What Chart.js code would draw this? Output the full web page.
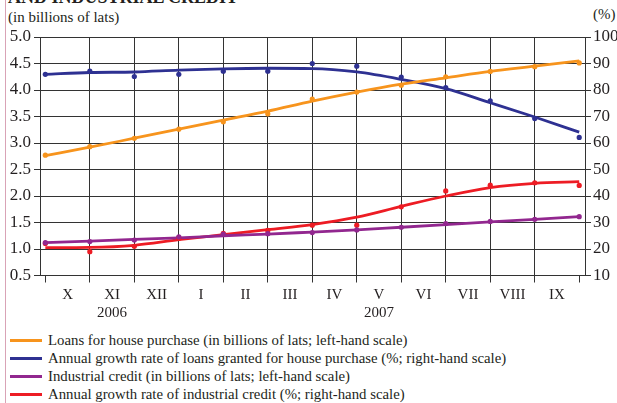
<!DOCTYPE html>
<html>
<head>
<meta charset="utf-8">
<script src="https://cdn.jsdelivr.net/npm/chart.js@4.4.0/dist/chart.umd.min.js"></script>
<style>
  html, body { margin: 0; padding: 0; background: #fff; width: 617px; height: 403px; overflow: hidden; }
  body { position: relative; font-family: "Liberation Serif", "DejaVu Serif", serif; color: #231f20; }
  #chart { position: absolute; left: 0; top: 0; }
  .txt { position: absolute; white-space: nowrap; line-height: 15px; font-size: 15px; }
  #title { position: absolute; left: 8px; top: -12px; font-size: 18px; line-height: 18px; font-weight: bold; white-space: nowrap; }
  #edge { position: absolute; left: 5px; top: 0; width: 1px; height: 403px; background: #d9a3b6; }
  #legend { position: absolute; left: 10px; top: 331px; font-size: 14.8px; line-height: 18px; }
  .row { display: flex; align-items: center; height: 18px; white-space: nowrap; }
  .sw { width: 32px; height: 3px; margin-right: 6px; }
</style>
</head>
<body>
<div id="edge"></div>
<div id="title">AND INDUSTRIAL CREDIT</div>
<div class="txt" style="left:8px; top:10px;">(in billions of lats)</div>
<div class="txt" style="left:593px; top:7px;">(%)</div>
<canvas id="chart" width="617" height="330"></canvas>
<div id="legend"></div>
<script>
// Month labels (placed between the month-end data points) and year labels
const months = ['X', 'XI', 'XII', 'I', 'II', 'III', 'IV', 'V', 'VI', 'VII', 'VIII', 'IX'];
const years  = ['', '2006', '', '', '', '', '', '2007', '', '', '', ''];

// Observed values (dots), 13 month-end points
const loansHouse      = [2.77, 2.93, 3.09, 3.26, 3.40, 3.55, 3.83, 3.96, 4.09, 4.25, 4.35, 4.44, 4.51];
const loansHouseGrowth= [85.9, 87.1, 85.1, 85.9, 87.1, 87.1, 90.0, 89.0, 84.9, 80.9, 75.9, 69.2, 62.1];
const industrial      = [1.12, 1.14, 1.17, 1.23, 1.28, 1.29, 1.31, 1.36, 1.41, 1.48, 1.52, 1.56, 1.61];
const industrialGrowth= [22.1, 19.0, 21.0, 24.1, 25.9, 27.0, 29.0, 29.0, 35.9, 41.9, 44.1, 45.0, 44.0];

// Smoothed trend lines
const loansHouseTrend      = [2.76, 2.92, 3.09, 3.26, 3.43, 3.60, 3.79, 3.96, 4.11, 4.23, 4.35, 4.45, 4.55];
const loansHouseGrowthTrend= [85.9, 86.6, 86.8, 87.5, 88.0, 88.2, 88.1, 86.8, 84.0, 80.5, 75.2, 69.8, 64.1];
const industrialTrend      = [1.12, 1.15, 1.18, 1.21, 1.25, 1.28, 1.32, 1.36, 1.41, 1.46, 1.51, 1.56, 1.61];
const industrialGrowthTrend= [20.5, 20.6, 21.4, 23.5, 25.4, 27.3, 29.2, 32.0, 36.1, 40.0, 43.2, 44.8, 45.4];

const legendLabels = [
  'Loans for house purchase (in billions of lats; left-hand scale)',
  'Annual growth rate of loans granted for house purchase (%; right-hand scale)',
  'Industrial credit (in billions of lats; left-hand scale)',
  'Annual growth rate of industrial credit (%; right-hand scale)'
];
const colors = ['#F7941D', '#2E3192', '#92278F', '#ED1C24'];

const pts = arr => arr.map((v, i) => ({ x: i, y: v }));
const GRID = '#333333';
const FONT = '"Liberation Serif", "DejaVu Serif", serif';

function lineDs(label, data, color, axis) {
  return { label, data: pts(data), yAxisID: axis, borderColor: color, backgroundColor: color,
    borderWidth: 2.8, pointRadius: 0, cubicInterpolationMode: 'monotone', fill: false, order: 2 };
}
function dotDs(label, data, color, axis) {
  return { label, data: pts(data), yAxisID: axis, borderColor: color, backgroundColor: color,
    showLine: false, pointRadius: 2.6, pointBorderWidth: 0, pointHoverRadius: 2.6, order: 1 };
}

new Chart(document.getElementById('chart'), {
  type: 'line',
  data: {
    datasets: [
      lineDs(legendLabels[0], loansHouseTrend, colors[0], 'y'),
      lineDs(legendLabels[1], loansHouseGrowthTrend, colors[1], 'y1'),
      lineDs(legendLabels[2], industrialTrend, colors[2], 'y'),
      lineDs(legendLabels[3], industrialGrowthTrend, colors[3], 'y1'),
      dotDs('loans dots', loansHouse, colors[0], 'y'),
      dotDs('loans growth dots', loansHouseGrowth, colors[1], 'y1'),
      dotDs('industrial dots', industrial, colors[2], 'y'),
      dotDs('industrial growth dots', industrialGrowth, colors[3], 'y1')
    ]
  },
  options: {
    responsive: false,
    animation: false,
    events: [],
    layout: { padding: { top: 37, left: 0, right: 0, bottom: 0 } },
    plugins: { legend: { display: false }, tooltip: { enabled: false } },
    scales: {
      x: {
        type: 'linear',
        position: 'bottom',
        min: -0.12,
        max: 12.13,
        afterBuildTicks: axis => {
          const t = [];
          for (let k = 0; k <= 24; k++) t.push({ value: k / 2 });
          axis.ticks = t;
        },
        afterFit: s => { s.height = 54.5; },
        grid: {
          color: ctx => {
            const v = ctx.tick ? ctx.tick.value : -1;
            return (Number.isInteger(v) && v > 0 && v < 12) ? GRID : 'rgba(0,0,0,0)';
          },
          tickColor: ctx => {
            const v = ctx.tick ? ctx.tick.value : -1;
            return Number.isInteger(v) ? GRID : 'rgba(0,0,0,0)';
          },
          lineWidth: 1,
          tickLength: 7,
          drawTicks: true
        },
        border: { display: true, color: GRID, width: 1 },
        ticks: {
          autoSkip: false, maxRotation: 0, minRotation: 0, padding: 4,
          color: '#231f20',
          font: { family: FONT, size: 15, lineHeight: 1.2 },
          callback: v => {
            if (Number.isInteger(v)) return '';
            const i = Math.floor(v);
            return years[i] ? [months[i], years[i]] : months[i];
          }
        }
      },
      y: {
        type: 'linear',
        position: 'left',
        min: 0.5, max: 5.0,
        afterFit: s => { s.width = 40; },
        grid: { color: GRID, lineWidth: 1, tickLength: 6, drawTicks: true },
        border: { display: true, color: GRID, width: 1 },
        ticks: {
          stepSize: 0.5, padding: 3, color: '#231f20',
          font: { family: FONT, size: 17 },
          callback: v => v.toFixed(1)
        }
      },
      y1: {
        type: 'linear',
        position: 'right',
        min: 10, max: 100,
        afterFit: s => { s.width = 32; },
        grid: { drawOnChartArea: false, color: GRID, lineWidth: 1, tickLength: 6, drawTicks: true },
        border: { display: true, color: GRID, width: 1 },
        ticks: {
          stepSize: 10, padding: 2, color: '#231f20',
          font: { family: FONT, size: 17 }
        }
      }
    }
  }
});

// HTML legend built from the same labels/colours
const lg = document.getElementById('legend');
legendLabels.forEach((t, i) => {
  const r = document.createElement('div');
  r.className = 'row';
  const s = document.createElement('span');
  s.className = 'sw';
  s.style.background = colors[i];
  const l = document.createElement('span');
  l.textContent = t;
  r.appendChild(s); r.appendChild(l);
  lg.appendChild(r);
});
</script>
</body>
</html>
